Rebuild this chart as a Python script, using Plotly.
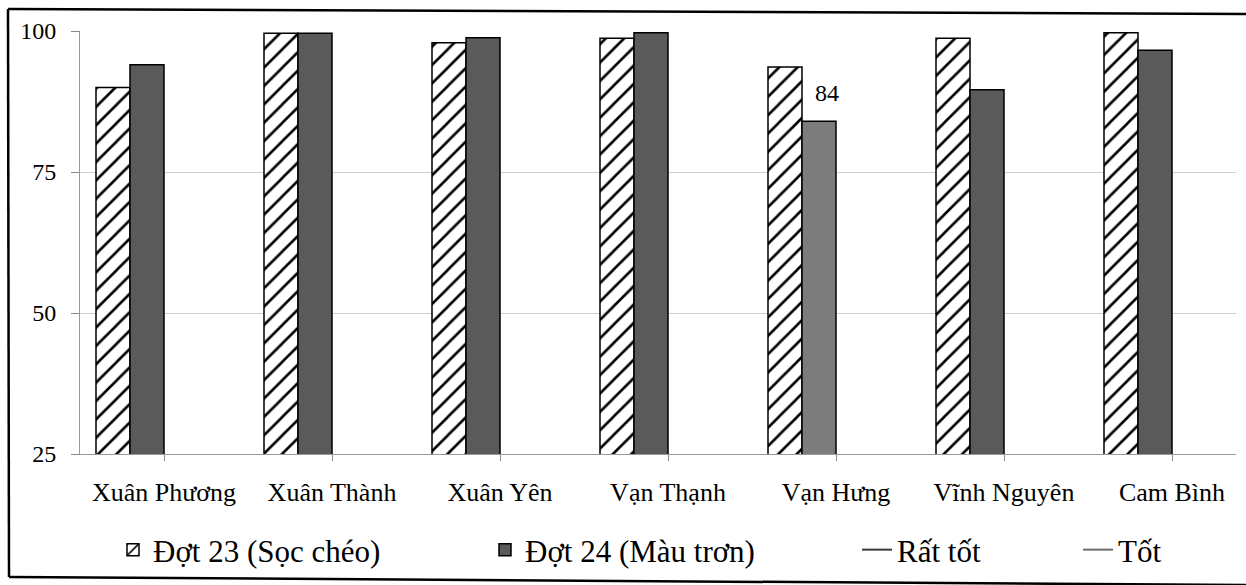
import plotly.graph_objects as go

# Categories (communes) and scores for the two survey rounds
communes = ["Xuân Phương", "Xuân Thành", "Xuân Yên", "Vạn Thạnh",
            "Vạn Hưng", "Vĩnh Nguyên", "Cam Bình"]
dot23 = [90, 99.6, 97.9, 98.7, 93.6, 98.7, 99.7]
dot24 = [94, 99.6, 98.8, 99.7, 84, 89.6, 96.6]
dot24_colors = ["#5a5a5a", "#5a5a5a", "#5a5a5a", "#5a5a5a",
                "#7c7c7c", "#5a5a5a", "#5a5a5a"]
y_ticks = [25, 50, 75, 100]
highlight_idx = 4  # commune whose Đợt 24 value is labelled

name23 = "Đợt 23 (Sọc chéo)"
name24 = "Đợt 24 (Màu trơn)"
name_rt = "Rất tốt"
name_t = "Tốt"

FONT = "Liberation Serif"
W, H = 1246, 585
ML, MR, MT, MB = 80, 10, 31, 131
plot_w = W - ML - MR
plot_h = H - MT - MB
cat_px = 168.0  # pixel width of one category band
x_max = -0.5 + plot_w / cat_px
bar_w = 34.0 / cat_px


def px_x(x):
    return (x - ML) / plot_w


def px_y(y):
    return (H - MB - y) / plot_h


fig = go.Figure()

fig.add_trace(go.Bar(
    x=list(range(len(communes))), y=dot23, name=name23,
    width=bar_w, offset=-2 * bar_w,
    marker=dict(color="white",
                pattern=dict(shape="/", fgcolor="black", bgcolor="white",
                             size=13, solidity=0.2, fillmode="replace"),
                line=dict(color="black", width=1.5)),
    legend="legend",
))
fig.add_trace(go.Bar(
    x=list(range(len(communes))), y=dot24, name=name24,
    width=bar_w, offset=-bar_w,
    marker=dict(color=dot24_colors, line=dict(color="black", width=1.5)),
    legend="legend",
))
# Reference-level series shown in the legend only
fig.add_trace(go.Scatter(x=[None], y=[None], mode="lines", name=name_rt,
                         line=dict(color="#3a3a3a", width=2), legend="legend2"))
fig.add_trace(go.Scatter(x=[None], y=[None], mode="lines", name=name_t,
                         line=dict(color="#6e6e6e", width=2), legend="legend2"))

# Value label over the highlighted bar
fig.add_annotation(
    x=highlight_idx - 0.5 * bar_w, y=dot24[highlight_idx],
    text=f"{dot24[highlight_idx]:g}", showarrow=False,
    xanchor="center", yanchor="bottom", xshift=8, yshift=13,
    font=dict(family=FONT, size=24, color="black"),
)

# Frame around the chart
frame = dict(color="black", width=2.5)
fig.add_shape(type="line", xref="paper", yref="paper",
              x0=px_x(8), y0=px_y(9), x1=px_x(1246), y1=px_y(14), line=frame)
fig.add_shape(type="line", xref="paper", yref="paper",
              x0=px_x(8), y0=px_y(9), x1=px_x(9), y1=px_y(577), line=frame)
fig.add_shape(type="line", xref="paper", yref="paper",
              x0=px_x(9), y0=px_y(577), x1=px_x(1246), y1=px_y(585), line=frame)

legend_font = dict(family=FONT, size=31, color="black")

fig.update_layout(
    width=W, height=H,
    margin=dict(l=ML, r=MR, t=MT, b=MB, pad=0, autoexpand=False),
    paper_bgcolor="white", plot_bgcolor="white",
    font=dict(family=FONT, size=24, color="black"),
    barmode="overlay",
    showlegend=True,
    legend=dict(orientation="h", x=px_x(113), y=px_y(550),
                xanchor="left", yanchor="middle",
                entrywidth=327, entrywidthmode="pixels",
                itemwidth=30, font=legend_font,
                bgcolor="rgba(0,0,0,0)", traceorder="normal"),
    legend2=dict(orientation="h", x=px_x(857), y=px_y(550),
                 xanchor="left", yanchor="middle",
                 entrywidth=176, entrywidthmode="pixels",
                 itemwidth=30, font=legend_font,
                 bgcolor="rgba(0,0,0,0)", traceorder="normal"),
    xaxis=dict(
        tickmode="array", tickvals=list(range(len(communes))),
        ticktext=communes, range=[-0.5, x_max],
        tickson="boundaries", ticks="outside", ticklen=6,
        tickcolor="#888", showline=True, linecolor="#999", linewidth=1,
        showgrid=False, zeroline=False, ticklabelstandoff=9,
        tickfont=dict(family=FONT, size=26, color="black"),
    ),
    yaxis=dict(
        range=[25, 100], tickmode="array", tickvals=y_ticks,
        ticks="outside", ticklen=8, tickcolor="#888",
        showline=True, linecolor="#999", linewidth=1,
        showgrid=True, gridcolor="#cfcfcf", gridwidth=1,
        zeroline=False, ticklabelstandoff=10,
        tickfont=dict(family=FONT, size=24, color="black"),
    ),
)

fig.write_html("out.html")
